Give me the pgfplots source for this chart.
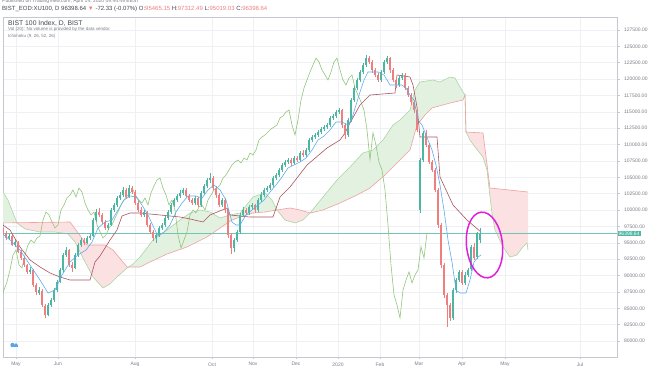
\documentclass[border=0pt]{standalone}
\usepackage{pgfplots}
\pgfplotsset{compat=1.18}
\usepackage{pgfplotstable}
\usepgfplotslibrary{fillbetween}
\usepackage{fontspec}
\setmainfont{Liberation Sans}
\definecolor{upc}{HTML}{4DB6A3}
\definecolor{dnc}{HTML}{EF7F7F}
\definecolor{tenc}{HTML}{5DADEC}
\definecolor{kijc}{HTML}{A8555E}
\definecolor{lagc}{HTML}{92C47A}
\definecolor{sac}{HTML}{A9D6A4}
\definecolor{sbc}{HTML}{EFA0A0}
\definecolor{cloudg}{HTML}{E3F1E1}
\definecolor{cloudr}{HTML}{FBE1E1}
\definecolor{gridc}{HTML}{EEF0F4}
\definecolor{axc}{HTML}{C5C8CF}
\definecolor{txt}{HTML}{7A7D85}
\definecolor{hdr}{HTML}{434651}
\definecolor{pricec}{HTML}{4FB5A5}
\definecolor{circ}{HTML}{E11FDA}
\definecolor{logoc}{HTML}{5BA4E6}
\def\sm{\fontsize{5}{6}\selectfont}

\pgfplotstableread{
x o h l c
3 96900 97300 96200 96500
6 96500 96800 95500 95740
9 95700 96300 95500 96040
12 96000 96200 94500 94670
15 94700 95400 94400 95130
18 95100 95300 93400 93600
21 93600 93900 92400 92680
24 92700 92900 91300 91620
27 91600 91800 90300 90550
30 90500 91300 90200 90850
33 90800 91000 88300 88560
36 88500 88900 87100 87490
39 87400 88200 87000 87800
42 87700 87900 85200 85510
45 85400 85700 83500 83980
48 84000 85800 83800 85510
51 85500 86600 85200 86270
54 86300 88100 86000 87800
57 87800 89300 87500 89020
60 89000 91200 88800 90850
63 90900 93500 90600 93140
66 93100 94300 92800 93910
69 93900 94100 91300 91620
72 91600 92000 90600 91160
75 91200 93400 91000 93140
78 93100 95000 92900 94670
81 94700 95800 94400 95430
84 95400 95700 94700 94980
87 95000 96100 94800 95740
90 95700 96400 95400 96040
93 96100 98800 95900 98490
96 98500 100100 98200 99710
99 99700 100300 99000 99250
102 99300 99600 97900 98180
105 98200 98500 96900 97270
108 97300 98000 97000 97720
111 97700 100300 97500 100010
114 100000 101100 99700 100780
117 100800 102200 100500 101850
120 101800 102700 101500 102300
123 102300 103500 102000 103070
126 103100 103400 101700 102000
129 102000 103800 101800 103370
132 103400 103700 102400 102760
135 102800 103000 100800 101080
138 101100 101400 99700 100010
141 100000 100400 98900 99250
144 99300 100000 99000 99710
147 99700 99900 97400 97720
150 97700 98000 96300 96660
153 96700 97000 95300 95740
156 95700 96500 95000 96200
159 96200 97600 95900 97270
162 97300 98100 97000 97720
165 97700 99100 97400 98790
168 98800 100000 98500 99710
171 99700 101100 99400 100780
174 100800 101900 100500 101540
177 101500 102500 101200 102150
180 102200 103000 101900 102610
183 102600 103400 102300 103070
186 103100 103300 101800 102150
189 102200 102500 101200 101540
192 101500 101800 100700 101080
195 101100 102100 100800 101850
198 101800 102000 100400 100780
201 100800 102900 100500 102610
204 102600 104000 102300 103680
207 103700 104900 103400 104600
210 104600 105600 104200 104900
213 104900 105200 103000 103370
216 103400 103700 101900 102300
219 102300 102600 100400 100780
222 100800 101900 100500 101540
225 101500 101800 99600 100010
228 100000 100200 95800 96200
231 96200 96500 93300 94210
234 94200 95800 93600 95430
237 95400 97000 95100 96660
240 96700 99600 96400 99250
243 99300 100400 99000 100010
246 100000 100300 99200 99560
249 99600 100800 99300 100470
252 100500 101100 100200 100780
255 100800 101000 99600 100010
258 100000 101900 99700 101540
261 101500 102700 101200 102300
264 102300 103400 102000 103070
267 103100 103700 102800 103370
270 103400 104200 103100 103830
273 103800 105200 103500 104900
276 104900 105700 104600 105360
279 105400 106500 105100 106120
282 106100 107200 105800 106890
285 106900 107700 106600 107340
288 107300 108000 107000 107650
291 107600 107900 106800 107190
294 107200 108300 106900 107950
297 108000 108300 107300 107650
300 107600 109000 107300 108720
303 108700 109100 108100 108410
306 108400 109500 108100 109180
309 109200 111000 108900 110700
312 110700 111500 110400 111160
315 111200 111800 110900 111470
318 111500 112300 111200 111930
321 111900 112700 111600 112380
324 112400 113000 112100 112690
327 112700 113300 112400 112990
330 113000 114400 112700 114060
333 114000 114700 113700 114370
336 114400 115300 114100 114980
339 115000 115600 114700 115280
342 115300 115500 112600 112990
345 113000 113300 110900 111470
348 111500 114100 111200 113760
351 113800 117100 113500 116810
354 116800 119000 116500 118640
357 118600 120200 118300 119870
360 119900 121400 119600 121090
363 121100 122500 120800 122160
366 122200 123700 121900 123220
369 123200 123500 122300 122610
372 122600 122900 121000 121390
375 121400 121700 120300 120630
378 120600 120900 119500 119870
381 119900 121400 119600 121090
384 121100 122900 120800 122610
387 122600 123500 122300 123220
390 123200 123400 121000 121390
393 121400 121700 119500 119870
396 119900 120200 118700 119100
399 119100 120500 118800 120170
402 120200 121000 119900 120630
405 120600 120900 118300 118640
408 118600 118900 117200 117570
411 117600 117900 116100 116510
414 116500 116800 114900 115280
417 115300 115500 111900 112230
420 100000 108000 99500 107650
423 107700 112100 107400 111800
426 111800 112200 109600 109900
429 109900 110200 107000 107300
432 107300 107600 105800 106120
435 106100 106400 102700 103070
438 103100 103300 97300 97720
441 97700 98000 91200 91620
444 91600 91900 86500 87040
447 87000 87300 82150 85510
450 85500 85800 83000 83520
453 83500 88100 83200 87800
456 87800 89700 87400 89330
459 89300 90900 89000 90550
462 90500 90800 88500 88870
465 88900 90500 88600 90090
468 90100 91200 89800 90850
471 91000 94700 90700 94400
474 94400 95000 92400 92700
477 92800 96700 92500 96470
480 95465.15 97312.49 95019.03 96398.64
}\candles

\pgfplotstableread{
x y
0 96650
10 95430
20 93900
30 91610
40 89320
48 87340
55 87790
62 90080
70 92070
78 93140
86 93900
92 95120
98 97260
105 98180
112 98480
118 100010
124 101540
130 102150
136 102000
142 100770
148 99250
154 97260
158 96040
164 96650
170 97720
176 99710
182 101080
188 102150
196 102150
202 101840
208 103070
214 103830
220 103070
226 101540
232 98180
236 97720
240 97720
246 99250
252 100010
258 100770
264 101540
270 102760
276 103830
282 105050
288 106430
294 106880
300 107340
306 107950
312 109170
318 110700
324 111310
330 112230
336 113450
342 113450
348 112990
352 114060
356 116050
360 118030
364 119860
368 121090
378 121090
384 120630
390 119100
402 119100
406 118640
410 117570
414 116810
418 113760
422 112990
428 110700
432 109170
436 106880
440 103830
444 100010
448 95430
452 92070
456 87790
460 87340
466 87340
470 89320
474 92070
478 92830
481 93140
}\tenkan

\pgfplotstableread{
x y
0 98030
10 96960
20 94360
30 92380
40 91310
50 90390
60 89780
70 89320
90 89320
95 92070
100 92990
110 95430
117 96960
122 99100
130 99550
140 99550
160 99250
180 98940
190 98640
203 98180
210 99250
227 100320
230 99250
250 98940
273 98940
280 102000
287 103070
290 103520
307 106880
327 109480
340 110700
345 111770
350 113300
360 116050
370 117570
395 117880
397 120630
410 120320
413 119100
417 115740
420 111160
437 111160
440 105050
453 100770
467 98480
481 96650
}\kijun

\pgfplotstableread{
x y
0 103520
8 101540
17 98030
25 97110
40 96650
55 96650
68 96350
75 95120
83 92680
93 89780
103 88100
110 88710
117 89780
127 91150
133 91760
140 92830
153 95430
167 96960
180 98480
190 99550
200 100010
210 99710
220 98790
230 99250
240 99550
253 102000
265 102610
272 101540
277 100010
285 98480
295 98030
303 98480
310 99550
323 102000
337 104590
350 106580
363 108720
373 109170
383 110700
393 112990
400 113760
410 115280
415 118340
420 119560
433 119860
440 119560
450 120320
455 120170
460 118800
463 118030
465 117570
466 111920
470 110700
475 109630
483 108100
487 106120
490 102000
492 99550
495 96960
503 94360
510 92830
517 93140
522 94210
527 94970
528 93900
}\senkouA

\pgfplotstableread{
x y
0 98030
70 98180
87 94670
105 94670
113 93900
127 91310
140 91310
150 92070
167 93290
187 94360
207 95890
220 97260
232 98480
240 98940
253 99550
265 99710
277 100010
290 100320
300 100010
310 99550
323 100010
340 101080
357 102300
370 103370
385 105360
395 106880
410 109170
417 112990
425 114520
432 115590
450 116350
463 116810
465 117570
466 111920
483 111770
490 103370
528 102760
}\senkouB

\begin{document}
\begin{tikzpicture}
\begin{axis}[
  at={(3pt,9pt)}, anchor=south west,
  scale only axis, width=614pt, height=340pt,
  xmin=3, xmax=617, ymin=77563, ymax=129486,
  axis line style={draw=axc, line width=0.6pt},
  xtick={16,58,135,212,253,296,338,380,419,462,505,580},
  xticklabels={May,Jun,Aug,Oct,Nov,Dec,2020,Feb,Mar,Apr,May,Jul},
  ytick={80000,82500,...,127500},
  scaled y ticks=false, scaled x ticks=false,
  xtick pos=bottom, ytick pos=right, yticklabel pos=right,
  tick align=outside, major tick length=2.5pt,
  tick style={draw=axc, line width=0.5pt},
  grid=major, major grid style={draw=gridc, line width=0.5pt},
  xticklabel style={font=\sm, text=txt, yshift=0.5pt},
  yticklabel style={font=\sm, text=txt, xshift=1pt},
  y tick label style={/pgf/number format/fixed, /pgf/number format/fixed zerofill,
    /pgf/number format/precision=2, /pgf/number format/1000 sep={},
    /pgf/number format/assume math mode=true},
  clip=true,
]
% cloud fills (paths only)
\addplot[name path=SA, draw=none, mark=none, forget plot] table[x=x,y=y] {\senkouA};
\addplot[name path=SB, draw=none, mark=none, forget plot] table[x=x,y=y] {\senkouB};
\addplot[fill=cloudg, draw=none] fill between[of=SA and SB, soft clip={domain=0:17}];
\addplot[fill=cloudr, draw=none] fill between[of=SA and SB, soft clip={domain=17:129}];
\addplot[fill=cloudg, draw=none] fill between[of=SA and SB, soft clip={domain=129:277}];
\addplot[fill=cloudr, draw=none] fill between[of=SA and SB, soft clip={domain=277:310}];
\addplot[fill=cloudg, draw=none] fill between[of=SA and SB, soft clip={domain=310:465.5}];
\addplot[fill=cloudr, draw=none] fill between[of=SA and SB, soft clip={domain=465.5:528}];
% cloud boundaries
\addplot[sac, line width=0.6pt, mark=none] table[x=x,y=y] {\senkouA};
\addplot[sbc, line width=0.6pt, mark=none] table[x=x,y=y] {\senkouB};
% last price line
\addplot[pricec!80, line width=0.4pt, mark=none] coordinates {(3,96398.64) (617,96398.64)};
% lagging span
\addplot[lagc, line width=0.6pt, mark=none] table[x expr=\thisrow{x}-50, y=c] {\candles};
% base line
\addplot[kijc, line width=0.6pt, mark=none] table[x=x,y=y] {\kijun};
% candles: wicks
\addplot[draw=none, mark=none, error bars/.cd, y dir=both, y explicit, error mark=none,
  error bar style={draw=upc, line width=0.5pt}]
  table[x=x, y expr={(\thisrow{c}>=\thisrow{o}) ? 0.5*(\thisrow{h}+\thisrow{l}) : nan},
        y error expr={0.5*(\thisrow{h}-\thisrow{l})}] {\candles};
\addplot[draw=none, mark=none, error bars/.cd, y dir=both, y explicit, error mark=none,
  error bar style={draw=dnc, line width=0.5pt}]
  table[x=x, y expr={(\thisrow{c}<\thisrow{o}) ? 0.5*(\thisrow{h}+\thisrow{l}) : nan},
        y error expr={0.5*(\thisrow{h}-\thisrow{l})}] {\candles};
% candles: bodies
\addplot[draw=none, mark=none, error bars/.cd, y dir=both, y explicit, error mark=none,
  error bar style={draw=upc, line width=1.9pt}]
  table[x=x, y expr={(\thisrow{c}>=\thisrow{o}) ? 0.5*(\thisrow{o}+\thisrow{c}) : nan},
        y error expr={0.5*abs(\thisrow{c}-\thisrow{o})}] {\candles};
\addplot[draw=none, mark=none, error bars/.cd, y dir=both, y explicit, error mark=none,
  error bar style={draw=dnc, line width=1.9pt}]
  table[x=x, y expr={(\thisrow{c}<\thisrow{o}) ? 0.5*(\thisrow{o}+\thisrow{c}) : nan},
        y error expr={0.5*abs(\thisrow{c}-\thisrow{o})}] {\candles};
% conversion line
\addplot[tenc, line width=0.6pt, mark=none] table[x=x,y=y] {\tenkan};
\coordinate (P) at (axis cs:617,96398.64);
\coordinate (E) at (axis cs:484.5,94666);
\end{axis}
\node[fill=pricec, text=white, font=\sm, inner sep=1pt, anchor=west] at ([xshift=0.5pt]P) {96398.64};
\draw[circ, line width=1.5pt, rotate around={6:(E)}] (E) ellipse [x radius=18pt, y radius=33pt];
% logo
\fill[logoc] (10.5pt,18.5pt) rectangle (18pt,21pt);
\fill[logoc] (12.5pt,21pt) circle (2.2pt);
\fill[logoc] (16pt,21pt) circle (1.8pt);
% header
\node[anchor=west, font=\sm, text=txt, inner sep=0pt] at (2pt,364.5pt) {Published on TradingView.com, April 14, 2020 09:44:49 EEST};
\node[anchor=west, font=\fontsize{6}{7}\selectfont, text=hdr, inner sep=0pt] at (2pt,357pt) {BIST\_EOD:XU100, D 96398.64 {\color{dnc}▼} -72.33 (-0.07\%) O:{\color{dnc}95465.15} H:{\color{dnc}97312.49} L:{\color{dnc}95019.03} C:{\color{dnc}96398.64}};
\node[anchor=west, font=\fontsize{6.8}{8}\selectfont, text=hdr, inner sep=0pt] at (8pt,343pt) {BIST 100 Index, D, BIST};
\node[anchor=west, font=\fontsize{4.5}{5.5}\selectfont, text=txt, inner sep=0pt] at (8pt,336.5pt) {Vol (20): No volume is provided by the data vendor.};
\node[anchor=west, font=\fontsize{4.5}{5.5}\selectfont, text=txt, inner sep=0pt] at (8pt,330pt) {Ichimoku (9, 26, 52, 26)};
\pgfresetboundingbox
\path[use as bounding box] (0,0) rectangle (654pt,366pt);
\end{tikzpicture}
\end{document}
